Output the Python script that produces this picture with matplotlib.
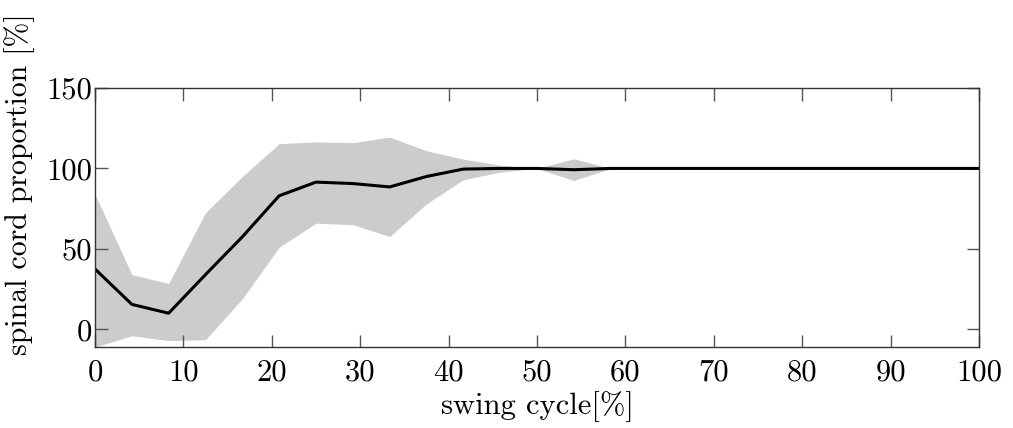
import matplotlib
matplotlib.use("Agg")
from matplotlib import pyplot as plt

plt.rcParams['font.family'] = ['cmr10', 'DejaVu Serif']
plt.rcParams['mathtext.fontset'] = 'cm'
plt.rcParams['axes.unicode_minus'] = False

# swing cycle positions (%)
x = [0, 4.17, 8.33, 12.5, 16.67, 20.83, 25, 29.17, 33.33, 37.5, 41.67, 45.83,
     50, 54.17, 58.33, 62.5, 66.67, 70.83, 75, 79.17, 83.33, 87.5, 91.67, 95.83, 100]
mean = [37.5, 15.5, 10, 34, 57.5, 83, 91.5, 90.6, 88.5, 95, 99.6, 100,
        100, 99.2, 100, 100, 100, 100, 100, 100, 100, 100, 100, 100, 100]
upper = [84, 34, 28.5, 72.5, 95, 115.4, 116.5, 116, 119.5, 111, 105.8, 102,
         100, 106, 100, 100, 100, 100, 100, 100, 100, 100, 100, 100, 100]
lower = [-11, -4, -7, -6.5, 19, 51, 66, 65, 57.7, 78, 93, 97.7,
         100, 92.5, 100, 100, 100, 100, 100, 100, 100, 100, 100, 100, 100]

fig = plt.figure(figsize=(10.13, 4.28), dpi=100)
ax = fig.add_axes([95/1013, 1-347/428, 884/1013, 259/428])

ax.fill_between(x, lower, upper, color='#cccccc', linewidth=0)
ax.plot(x, mean, color='black', linewidth=2.2)

ax.set_xlim(0, 100)
ax.set_ylim(-11, 150)
ax.set_xticks(range(0, 101, 10))
ax.set_yticks([0, 50, 100, 150])
ax.tick_params(direction='in', top=True, right=True, length=9, width=1,
               color='#555555', labelsize=22)
ax.tick_params(axis='x', pad=9)
ax.tick_params(axis='y', pad=2)
for s in ax.spines.values():
    s.set_color('#333333')
    s.set_linewidth(1)

ax.set_xlabel('swing cycle[%]', fontsize=22, labelpad=3)
ax.set_ylabel('spinal cord proportion [%]', fontsize=21.5)
ax.yaxis.set_label_coords(-0.068, 0.63)

fig.savefig('out.png', dpi=100)
